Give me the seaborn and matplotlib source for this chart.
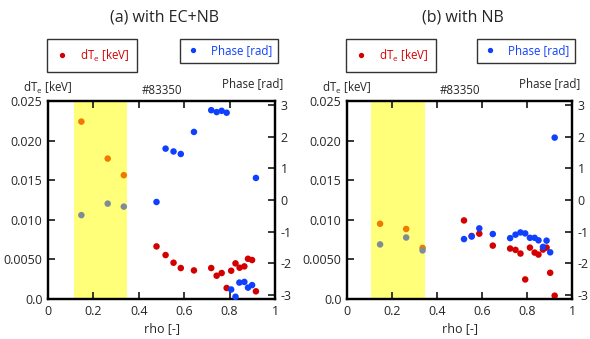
import matplotlib
matplotlib.use("Agg")
import matplotlib.pyplot as plt
from matplotlib.lines import Line2D
import seaborn as sns
import pandas as pd
import numpy as np

# ---------------- data ----------------
titles = ["(a) with EC+NB", "(b) with NB"]
shot_label = "#83350"
band_a = [0.115, 0.35]
band_b = [0.108, 0.346]

rho_a = [0.147, 0.263, 0.334, 0.478, 0.518, 0.553, 0.585, 0.643, 0.719, 0.743,
         0.765, 0.787, 0.807, 0.826, 0.844, 0.865, 0.881, 0.899, 0.916]
dte_a = [0.0224, 0.01773, 0.01563, 0.00664, 0.00555, 0.00458, 0.00391, 0.00361,
         0.00391, 0.00294, 0.00328, 0.00139, 0.00357, 0.0045, 0.00395, 0.00412,
         0.00508, 0.00492, 0.00097]
phase_rho_a = [0.147, 0.263, 0.334, 0.478, 0.518, 0.553, 0.585, 0.643, 0.719, 0.743,
               0.765, 0.787, 0.807, 0.826, 0.843, 0.865, 0.881, 0.899, 0.916]
phase_a = [-0.48, -0.115, -0.21, -0.063, 1.63, 1.54, 1.46, 2.16, 2.85, 2.79,
           2.83, 2.77, -2.84, -3.07, -2.62, -2.60, -2.78, -2.70, 0.70]

rho_b = [0.147, 0.263, 0.336, 0.520, 0.554, 0.588, 0.648, 0.725, 0.749, 0.771,
         0.792, 0.813, 0.834, 0.851, 0.871, 0.887, 0.903, 0.923]
dte_b = [0.0095, 0.00884, 0.00645, 0.00992, 0.00796, 0.00825, 0.00674, 0.00637,
         0.0062, 0.00574, 0.00247, 0.00649, 0.00586, 0.00561, 0.00624, 0.00649,
         0.00331, 0.00042]
phase_b = [-1.41, -1.19, -1.60, -1.24, -1.16, -0.90, -1.08, -1.21, -1.10, -1.03,
           -1.06, -1.20, -1.20, -1.28, -1.49, -1.29, -1.66, 1.98]

xticks = [0, 0.2, 0.4, 0.6, 0.8, 1.0]
xticklabels = ["0", "0.2", "0.4", "0.6", "0.8", "1"]
yticks_left = [0.0, 0.005, 0.010, 0.015, 0.020, 0.025]
yticklabels_left = ["0.0", "0.0050", "0.010", "0.015", "0.020", "0.025"]
yticks_right = [-3, -2, -1, 0, 1, 2, 3]

RED = "#D40000"
BLUE = "#1040FF"
RED_IN_BAND = "#F07A00"
BLUE_IN_BAND = "#7F8C98"
BAND = "#FFFF7A"

# ---------------- style ----------------
sns.set_theme(style="ticks")
plt.rcParams['font.family'] = ['Open Sans', 'DejaVu Sans']
plt.rcParams['mathtext.fontset'] = 'custom'
plt.rcParams['mathtext.rm'] = 'Open Sans'
plt.rcParams['mathtext.it'] = 'Open Sans'
plt.rcParams['axes.unicode_minus'] = False
FS = 9
FS_LAB = 8.3

fig = plt.figure(figsize=(5.9, 3.39), dpi=100)
W, H = 590, 339


def fx(px):
    return px / W


def fy(py):
    return 1 - py / H


panels = [
    dict(left=48, right=275, rho=rho_a, dte=dte_a, prho=phase_rho_a, ph=phase_a,
         band=band_a, title=titles[0]),
    dict(left=347, right=572, rho=rho_b, dte=dte_b, prho=rho_b, ph=phase_b,
         band=band_b, title=titles[1]),
]
top_px, bot_px = 101, 299

for p in panels:
    ax = fig.add_axes([fx(p['left']), fy(bot_px), (p['right'] - p['left']) / W,
                       (bot_px - top_px) / H])
    ax2 = ax.twinx()
    lo, hi = p['band']
    df1 = pd.DataFrame({"rho": p['rho'], "dTe": p['dte']})
    df1["zone"] = np.where((df1.rho >= lo) & (df1.rho <= hi), "in", "out")
    df2 = pd.DataFrame({"rho": p['prho'], "phase": p['ph']})
    df2["zone"] = np.where((df2.rho >= lo) & (df2.rho <= hi), "in", "out")

    ax.axvspan(lo, hi, color=BAND, lw=0, zorder=0)
    sns.scatterplot(data=df1, x="rho", y="dTe", ax=ax, hue="zone",
                    palette={"in": RED_IN_BAND, "out": RED}, s=22,
                    edgecolor="none", legend=False, clip_on=False, zorder=3)
    sns.scatterplot(data=df2, x="rho", y="phase", ax=ax2, hue="zone",
                    palette={"in": BLUE_IN_BAND, "out": BLUE}, s=22,
                    edgecolor="none", legend=False, clip_on=False, zorder=3)

    ax.set_xlim(0, 1)
    ax.set_ylim(0, 0.025)
    ax2.set_ylim(-np.pi, np.pi)
    ax.set_xticks(xticks)
    ax.set_xticklabels(xticklabels)
    ax.set_yticks(yticks_left)
    ax.set_yticklabels(yticklabels_left)
    ax2.set_yticks(yticks_right)
    ax.set_xlabel("rho [-]", fontsize=FS, labelpad=3)
    ax.set_ylabel("")
    ax2.set_ylabel("")
    ax.tick_params(axis='both', direction='in', length=5, width=1.3,
                   labelsize=FS, top=True, pad=4)
    ax.tick_params(axis='y', right=False)
    ax2.tick_params(axis='y', direction='in', length=5, width=1.3,
                    labelsize=FS, pad=4)
    for a in (ax, ax2):
        for s in a.spines.values():
            s.set_visible(True)
            s.set_linewidth(1.6)
            s.set_color("black")

    cx = (p['left'] + p['right']) / 2
    fig.text(fx(cx + 3), fy(17), p['title'], ha='center', va='center', fontsize=11.5)
    fig.text(fx(cx), fy(91), shot_label, ha='center', va='center', fontsize=FS_LAB)
    fig.text(fx(p['left'] - 25), fy(88), "dT$_{\\rm e}$ [keV]", ha='left',
             va='center', fontsize=FS_LAB)
    fig.text(fx(p['right'] + 8), fy(84), "Phase [rad]", ha='right', va='center',
             fontsize=FS_LAB)

    h_red = [Line2D([], [], marker='o', ls='', color=RED, markersize=2.8)]
    h_blue = [Line2D([], [], marker='o', ls='', color=BLUE, markersize=2.8)]
    leg1 = ax.legend(h_red, ["dT$_{\\rm e}$ [keV]"], loc='center',
                     bbox_to_anchor=(fx(p['left'] + 44), fy(55.5)),
                     bbox_transform=fig.transFigure, frameon=True, fancybox=False,
                     edgecolor='black', labelcolor=RED, fontsize=FS_LAB,
                     handlelength=1.2, handletextpad=1.0, borderpad=0.7,
                     borderaxespad=0)
    leg1.get_frame().set_linewidth(1.0)
    leg2 = ax2.legend(h_blue, ["Phase [rad]"], loc='center',
                      bbox_to_anchor=(fx(p['right'] - 46), fy(51)),
                      bbox_transform=fig.transFigure, frameon=True, fancybox=False,
                      edgecolor='black', labelcolor=BLUE, fontsize=FS_LAB,
                      handlelength=1.2, handletextpad=1.0, borderpad=0.5,
                      borderaxespad=0)
    leg2.get_frame().set_linewidth(1.0)

fig.savefig("out.png", dpi=100)
